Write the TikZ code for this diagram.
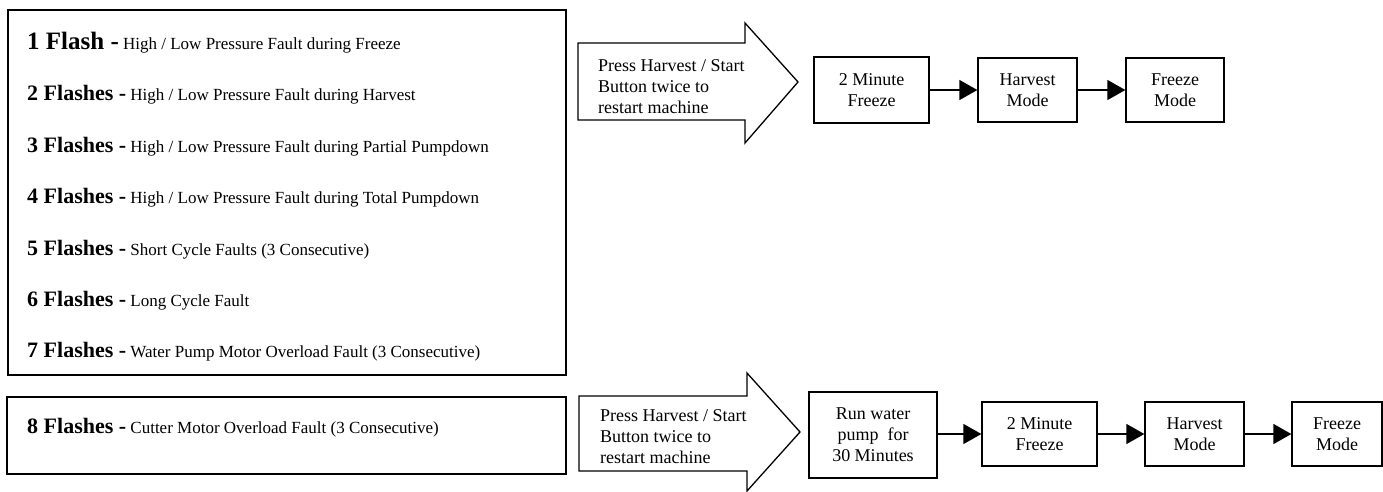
\documentclass[tikz,border=0pt]{standalone}
\usepackage{fontspec}
\setmainfont{Liberation Serif}
\usetikzlibrary{arrows.meta}

\newcommand{\flashno}[1]{{\fontsize{22}{24}\selectfont\bfseries #1 -}}

\begin{document}
\begin{tikzpicture}[x=1pt,y=-1pt,
	panel/.style={draw,line width=1.6pt},
	code/.style={anchor=base west,inner sep=0pt,font=\fontsize{17}{20}\selectfont},
	stage/.style={draw,line width=1.3pt,align=center,inner sep=0pt,font=\fontsize{18}{21}\selectfont},
	press/.style={anchor=north west,align=left,inner sep=0pt,font=\fontsize{18}{21}\selectfont},
	flow/.style={line width=1.3pt,-{Triangle[length=18pt,width=20pt]}}]
	\useasboundingbox (0,0) rectangle (1383,491);

	% fault codes
	\draw[panel] (8,10) rectangle (566,375);
	\draw[panel] (7,397) rectangle (566,474);
	\node[code] (c1) at (27,49) {{\fontsize{25}{27}\selectfont\bfseries 1 Flash -} High / Low Pressure Fault during Freeze};
	\node[code] (c2) at (27,100.7) {\flashno{2 Flashes} High / Low Pressure Fault during Harvest};
	\node[code] (c3) at (27,152) {\flashno{3 Flashes} High / Low Pressure Fault during Partial Pumpdown};
	\node[code] (c4) at (27,203.5) {\flashno{4 Flashes} High / Low Pressure Fault during Total Pumpdown};
	\node[code] (c5) at (27,255) {\flashno{5 Flashes} Short Cycle Faults (3 Consecutive)};
	\node[code] (c6) at (27,306) {\flashno{6 Flashes} Long Cycle Fault};
	\node[code] (c7) at (27,357) {\flashno{7 Flashes} Water Pump Motor Overload Fault (3 Consecutive)};
	\node[code] (c8) at (27,433) {\flashno{8 Flashes} Cutter Motor Overload Fault (3 Consecutive)};

	% restart arrows
	\draw[line width=1.3pt] (578,43) -- (745,43) -- (745,23) -- (798,82) -- (745,143) -- (745,120) -- (578,120) -- cycle;
	\node[press] (pressA) at (598,59) {Press Harvest / Start\\Button twice to\\restart machine};
	\draw[line width=1.3pt] (579,396) -- (747,396) -- (747,373) -- (800,432) -- (747,491) -- (747,471) -- (579,471) -- cycle;
	\node[press] (pressB) at (600,409) {Press Harvest / Start\\Button twice to\\restart machine};

	% upper sequence
	\node[stage,minimum width=115pt,minimum height=66pt] (freezeA) at (871.5,90) {2 Minute\\Freeze};
	\node[stage,minimum width=99pt,minimum height=64pt] (harvestA) at (1027.5,90) {Harvest\\Mode};
	\node[stage,minimum width=98pt,minimum height=64pt] (modeA) at (1175,90) {Freeze\\Mode};
	\draw[flow] (freezeA) -- (harvestA);
	\draw[flow] (harvestA) -- (modeA);

	% lower sequence
	\node[stage,minimum width=128pt,minimum height=86pt] (pump) at (873,435) {Run water\\pump~ for\\30 Minutes};
	\node[stage,minimum width=115pt,minimum height=64pt] (freezeB) at (1039.5,434) {2 Minute\\Freeze};
	\node[stage,minimum width=99pt,minimum height=64pt] (harvestB) at (1194.5,434) {Harvest\\Mode};
	\node[stage,minimum width=90pt,minimum height=64pt] (modeB) at (1337,434) {Freeze\\Mode};
	\draw[flow] (pump.east |- freezeB) -- (freezeB);
	\draw[flow] (freezeB) -- (harvestB);
	\draw[flow] (harvestB) -- (modeB);
\end{tikzpicture}
\end{document}
